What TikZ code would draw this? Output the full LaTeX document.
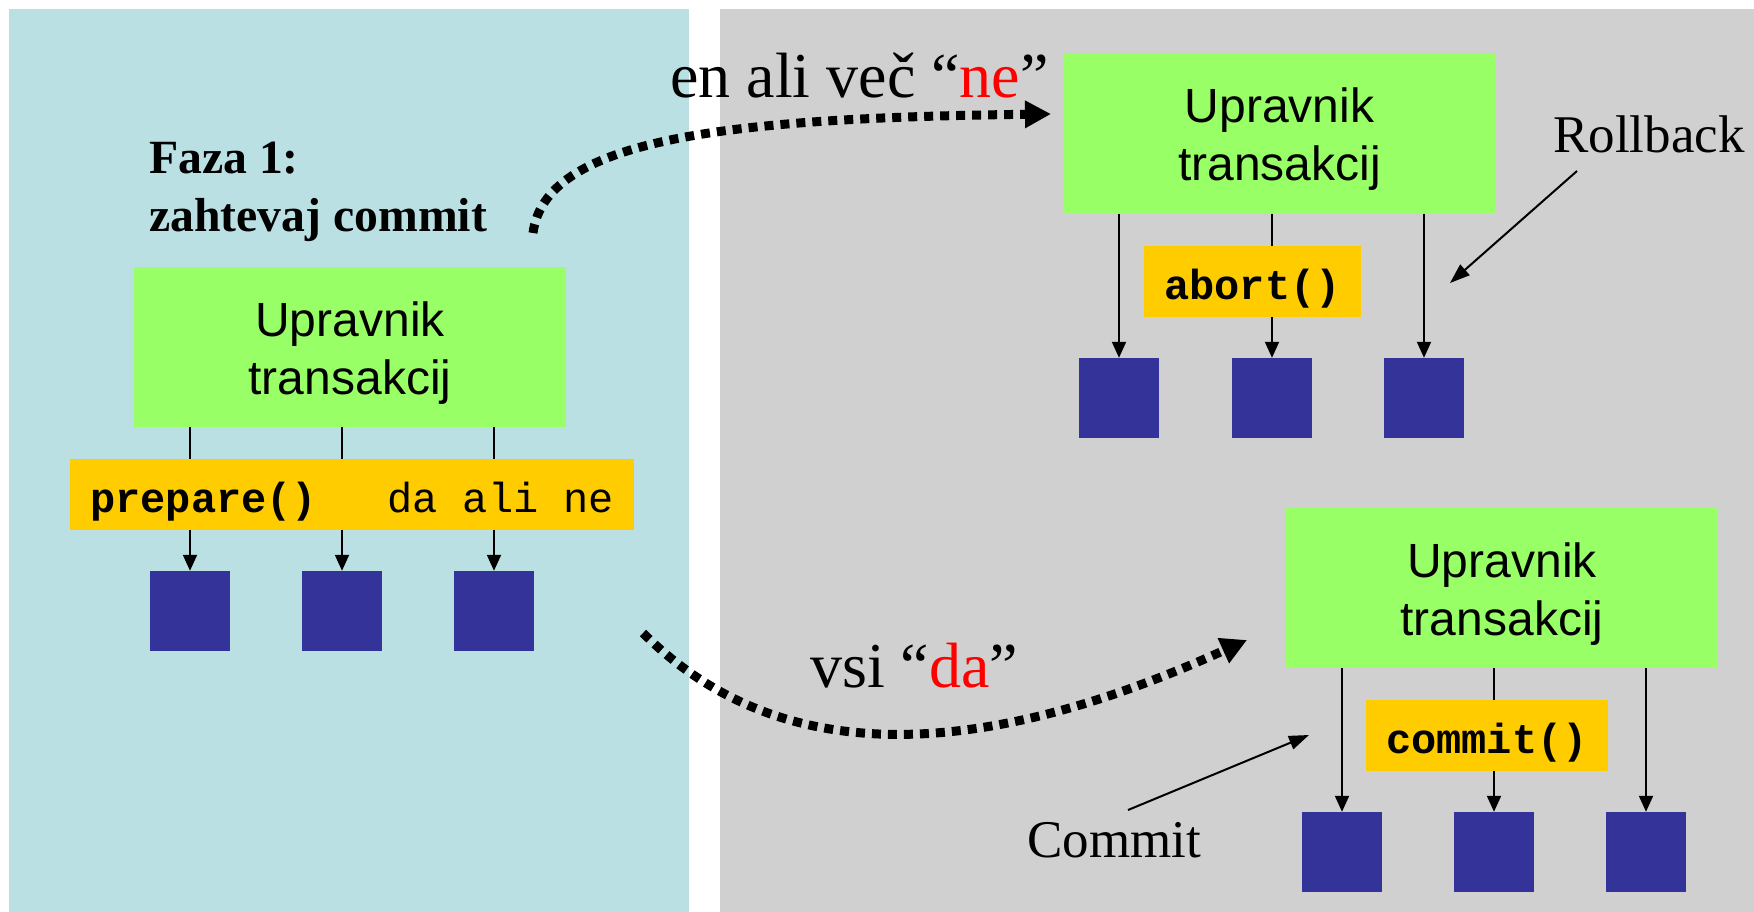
\documentclass[tikz,border=0pt]{standalone}
\usepackage{fontspec}
\setmainfont{Liberation Serif}
\setsansfont{Liberation Sans}
\setmonofont{Liberation Mono}
\usetikzlibrary{arrows.meta}
\definecolor{panelblue}{HTML}{BBE0E3}
\definecolor{panelgray}{HTML}{D0D0D0}
\definecolor{mgrgreen}{HTML}{99FF66}
\definecolor{callyellow}{HTML}{FFCC00}
\definecolor{resblue}{HTML}{333399}
\begin{document}
\begin{tikzpicture}[x=1pt,y=-1pt,
  mgr/.style={fill=mgrgreen, draw=none, minimum width=432pt, minimum height=160pt, inner sep=0pt},
  mgrtext/.style={align=center, inner sep=0pt, font=\sffamily\fontsize{48}{58}\selectfont, yshift=-6pt},
  callbox/.style={fill=callyellow, draw=none, inner xsep=0pt, inner ysep=0pt, text height=53pt, text depth=18pt, font=\ttfamily\bfseries\fontsize{42}{50}\selectfont},
  res/.style={fill=resblue, draw=none, minimum size=80pt, inner sep=0pt},
  conn/.style={line width=2pt, -{Triangle[length=16pt,width=14pt]}},
  pointer/.style={line width=2pt, -{Triangle[length=20pt,width=14pt]}},
  vote/.style={line width=9pt, dash pattern=on 9pt off 7pt, -{Triangle[length=26pt,width=26pt]}},
  big/.style={anchor=base west, inner sep=0pt, font=\fontsize{64}{70}\selectfont},
  lbl/.style={anchor=base west, inner sep=0pt, font=\fontsize{53}{60}\selectfont},
  phase/.style={anchor=base west, inner sep=0pt, font=\bfseries\fontsize{47.7}{58}\selectfont},
]
\useasboundingbox (0,0) rectangle (1754,912);
% panels
\fill[panelblue] (9,9) rectangle (689,912);
\fill[panelgray] (720,9) rectangle (1754,912);

% ---- left: phase 1
\node[phase] (faza) at (149,174) {Faza 1:};
\node[phase] (zaht) at (149,232) {zahtevaj commit};
\node[mgr] (m1) at (350,347) {};
\node[mgrtext] at (m1.center) {Upravnik\\transakcij};
\node[res] (a1) at (190,611) {};
\node[res] (a2) at (342,611) {};
\node[res] (a3) at (494,611) {};
\draw[conn] (m1.south -| a1) -- (a1.north);
\draw[conn] (m1.south -| a2) -- (a2.north);
\draw[conn] (m1.south -| a3) -- (a3.north);
\node[callbox, minimum width=564pt] (p1) at (352,494) {};
\node[anchor=base west, inner sep=0pt, font=\ttfamily\bfseries\fontsize{42}{50}\selectfont] at (90,512) {prepare()};
\node[anchor=base west, inner sep=0pt, font=\ttfamily\fontsize{42}{50}\selectfont] at (387,512) {da ali ne};

% ---- top right: abort
\node[mgr] (m2) at (1279.5,133.5) {};
\node[mgrtext] at (m2.center) {Upravnik\\transakcij};
\node[res] (b1) at (1119,398) {};
\node[res] (b2) at (1272,398) {};
\node[res] (b3) at (1424,398) {};
\draw[conn] (m2.south -| b1) -- (b1.north);
\draw[conn] (m2.south -| b2) -- (b2.north);
\draw[conn] (m2.south -| b3) -- (b3.north);
\node[callbox, minimum width=217pt] (ab) at (1252.5,281.5) {abort()};
\node[lbl] (rb) at (1553,153) {Rollback};
\coordinate (rbs) at (1577,171);
\coordinate (rbt) at (1450,283);
\draw[pointer] (rbs) -- (rbt);

% ---- bottom right: commit
\node[mgr] (m3) at (1502,588) {};
\node[mgrtext] at (m3.center) {Upravnik\\transakcij};
\node[res] (c1) at (1342,852) {};
\node[res] (c2) at (1494,852) {};
\node[res] (c3) at (1646,852) {};
\draw[conn] (m3.south -| c1) -- (c1.north);
\draw[conn] (m3.south -| c2) -- (c2.north);
\draw[conn] (m3.south -| c3) -- (c3.north);
\node[callbox, minimum width=242pt] (cm) at (1487,735.5) {commit()};
\node[lbl] (cl) at (1027,857) {Commit};
\coordinate (cls) at (1128,810);
\coordinate (clt) at (1309,735);
\draw[pointer] (cls) -- (clt);

% ---- votes
\node[big] (ne) at (670,98) {en ali več “\textcolor{red}{ne}”};
\node[big] (da) at (810,687) {vsi “\textcolor{red}{da}”};
\coordinate (v1s) at (533,233);
\coordinate (v1e) at (1051,114);
\draw[vote] (v1s) .. controls (545,140) and (720,118) .. (v1e);
\coordinate (v2s) at (643,633);
\coordinate (v2e) at (1247,640);
\draw[vote] (v2s) .. controls (770,760) and (960,770) .. (v2e);
\end{tikzpicture}
\end{document}
